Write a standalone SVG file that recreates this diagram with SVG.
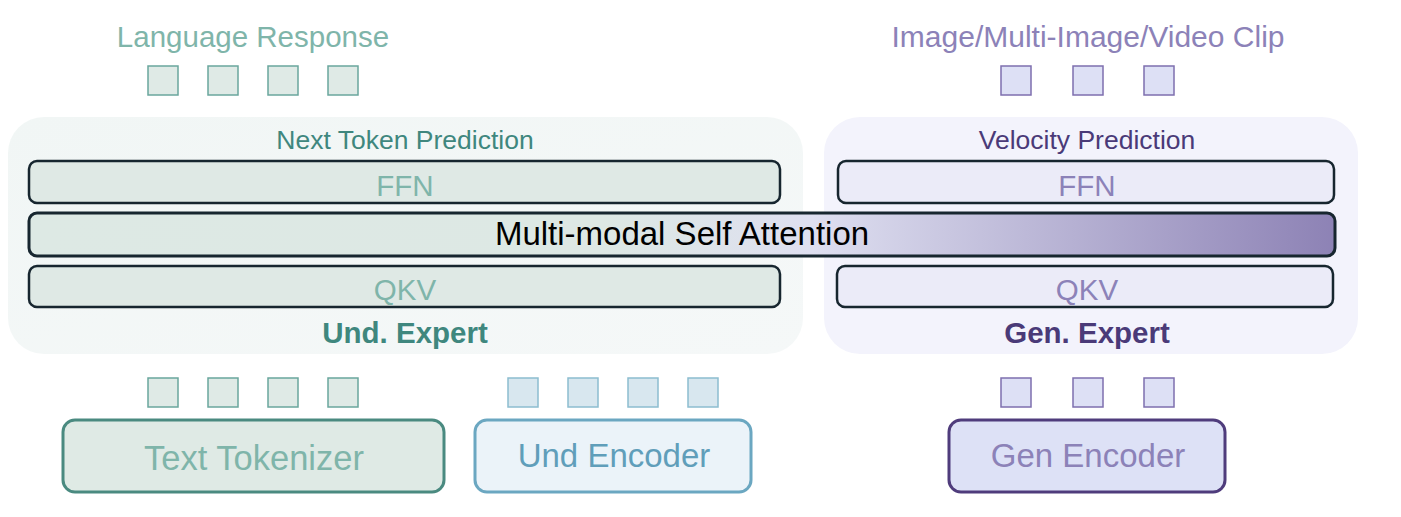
<svg xmlns="http://www.w3.org/2000/svg" width="1401" height="517" viewBox="0 0 1401 517">
<defs>
<linearGradient id="msa" x1="28" y1="0" x2="1335" y2="0" gradientUnits="userSpaceOnUse">
<stop offset="0" stop-color="#dde9e4"/>
<stop offset="0.44" stop-color="#dde8e4"/>
<stop offset="0.6" stop-color="#dedff0"/>
<stop offset="1" stop-color="#8d82b5"/>
</linearGradient>
<linearGradient id="panelL" x1="0" y1="0" x2="1" y2="1">
<stop offset="0" stop-color="#f1f6f5"/>
<stop offset="1" stop-color="#f5f8f8"/>
</linearGradient>
<style>
text{font-family:"Liberation Sans",Arial,sans-serif;text-anchor:middle}
.sqT{fill:#dfeae6;stroke:#6aa69d;stroke-width:1.5}
.sqB{fill:#d8e7ef;stroke:#8cbdd0;stroke-width:1.5}
.sqP{fill:#dde0f5;stroke:#7e6fae;stroke-width:1.5}
.layL{fill:#dfe9e5;stroke:#17262f;stroke-width:2.5}
.layR{fill:#ebebf8;stroke:#17262f;stroke-width:2.5}
.tealLbl{fill:#7fb5aa}
.purLbl{fill:#8c82b8}
</style>
</defs>
<rect width="1401" height="517" fill="#ffffff"/>
<g id="language-response">
<text x="253" y="47" font-size="29.5" class="tealLbl">Language Response</text>
<rect class="sqT" x="148" y="66" width="30" height="29"/>
<rect class="sqT" x="208" y="66" width="30" height="29"/>
<rect class="sqT" x="268" y="66" width="30" height="29"/>
<rect class="sqT" x="328" y="66" width="30" height="29"/>
</g>
<g id="image-output">
<text x="1088" y="47" font-size="30" class="purLbl">Image/Multi-Image/Video Clip</text>
<rect class="sqP" x="1001" y="66" width="30" height="29"/>
<rect class="sqP" x="1073" y="66" width="30" height="29"/>
<rect class="sqP" x="1144" y="66" width="30" height="29"/>
</g>
<g id="und-expert">
<rect x="8" y="117" width="795" height="237" rx="36" fill="url(#panelL)"/>
<text x="405" y="149" font-size="26.5" fill="#3f877e">Next Token Prediction</text>
<rect class="layL" x="29" y="161" width="751" height="42" rx="8"/>
<text x="405" y="196" font-size="29.5" class="tealLbl">FFN</text>
<rect class="layL" x="29" y="266" width="751" height="41" rx="8"/>
<text x="405" y="300" font-size="29.5" class="tealLbl">QKV</text>
<text x="405" y="343" font-size="29.5" font-weight="bold" fill="#3f877e">Und. Expert</text>
</g>
<g id="gen-expert">
<rect x="824" y="117" width="534" height="237" rx="36" fill="#f3f3fc"/>
<text x="1087" y="149" font-size="26.5" fill="#4a3a78">Velocity Prediction</text>
<rect class="layR" x="838" y="161" width="496" height="42" rx="8"/>
<text x="1087" y="196" font-size="29.5" class="purLbl">FFN</text>
<rect class="layR" x="837" y="266" width="496" height="41" rx="8"/>
<text x="1087" y="300" font-size="29.5" class="purLbl">QKV</text>
<text x="1087" y="343" font-size="29.5" font-weight="bold" fill="#4a3a78">Gen. Expert</text>
</g>
<g id="self-attention">
<rect x="29" y="213" width="1306" height="43" rx="8" fill="url(#msa)" stroke="#17262f" stroke-width="3"/>
<text x="682" y="245" font-size="33" fill="#000000">Multi-modal Self Attention</text>
</g>
<g id="connectors"></g>
<g id="text-tokenizer">
<rect class="sqT" x="148" y="378" width="30" height="29"/>
<rect class="sqT" x="208" y="378" width="30" height="29"/>
<rect class="sqT" x="268" y="378" width="30" height="29"/>
<rect class="sqT" x="328" y="378" width="30" height="29"/>
<rect x="63" y="420" width="381" height="72" rx="12" fill="#dfeae5" stroke="#4a8a80" stroke-width="3"/>
<text x="254" y="470" font-size="34.5" class="tealLbl">Text Tokenizer</text>
</g>
<g id="und-encoder">
<rect class="sqB" x="508" y="378" width="30" height="29"/>
<rect class="sqB" x="568" y="378" width="30" height="29"/>
<rect class="sqB" x="628" y="378" width="30" height="29"/>
<rect class="sqB" x="688" y="378" width="30" height="29"/>
<rect x="475" y="420" width="276" height="72" rx="12" fill="#ebf3f9" stroke="#6ba7c1" stroke-width="3"/>
<text x="614" y="467" font-size="33" fill="#609eba">Und Encoder</text>
</g>
<g id="gen-encoder">
<rect class="sqP" x="1001" y="378" width="30" height="29"/>
<rect class="sqP" x="1073" y="378" width="30" height="29"/>
<rect class="sqP" x="1144" y="378" width="30" height="29"/>
<rect x="949" y="420" width="276" height="72" rx="12" fill="#dde1f6" stroke="#4f3c7c" stroke-width="3"/>
<text x="1088" y="467" font-size="33" class="purLbl">Gen Encoder</text>
</g>
</svg>
